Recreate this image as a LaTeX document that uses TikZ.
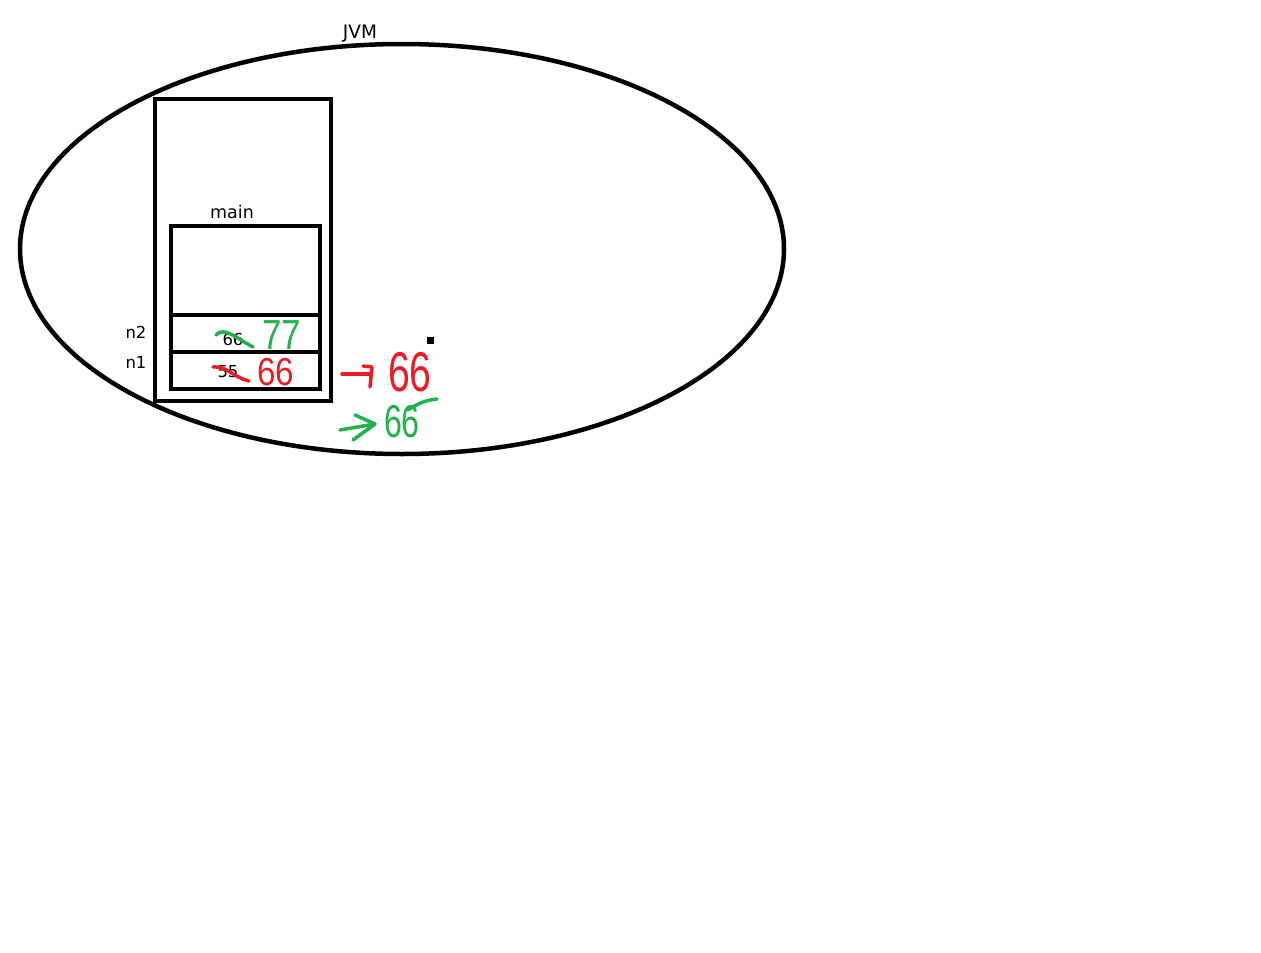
\documentclass[tikz,border=0pt]{standalone}
\usepackage{fontspec}
\setmainfont{DejaVu Sans}
\newfontfamily\scrawlfont{Liberation Sans}
\usetikzlibrary{shapes.geometric,positioning}
\definecolor{paintred}{RGB}{237,28,36}
\definecolor{paintgreen}{RGB}{34,177,76}

\begin{document}
\begin{tikzpicture}[x=1pt,y=-1pt,
  box/.style={draw,line width=4.5pt,inner sep=0pt},
  lbl/.style={inner sep=0pt,font=\fontsize{16.5}{18}\selectfont},
  hand/.style={line width=3.5pt,line cap=round,line join=round},
  scrawl/.style={inner sep=0pt,font=\scrawlfont}]

  \fill[white] (0,0) rectangle (1261,953);
  \useasboundingbox (0,0) rectangle (1261,953);

  % jvm and the stack inside it
  \node[box,ellipse,minimum width=764pt,minimum height=410pt] (jvm) at (402,249) {};
  \node[lbl,font=\fontsize{18.5}{20}\selectfont] (jvmlbl) at (360,34) {JVM};
  \node[box,minimum width=176pt,minimum height=302pt] (stack) at (243,250) {};

  % frame of main with its two slots
  \node[box,minimum width=149pt,minimum height=163pt] (frame) at (245.5,307.5) {};
  \node[lbl,font=\fontsize{17.5}{19}\selectfont] (mainlbl) at (232,212) {main};
  \node[box,minimum width=149pt,minimum height=37pt] (n2slot) at (245.5,333.5) {};
  \node[box,minimum width=149pt,minimum height=37pt] (n1slot) at (245.5,370.5) {};
  \node[lbl] (n2lbl) at (136,332) {n2};
  \node[lbl] (n1lbl) at (136,362) {n1};
  \node[lbl] (oldn2) at (233,339) {66};
  \node[lbl] (oldn1) at (228,372) {55};

  % crossed out values
  \draw[hand,paintgreen] (216,335) .. controls (224,326) and (236,338) .. (253,347);
  \draw[hand,paintred] (213,367) .. controls (228,366) and (234,378) .. (249,381);

  % new values written by hand
  \node[scrawl,text=paintred] (newn1) at (276,372)
    {\scalebox{0.85}[1]{\fontsize{39}{39}\selectfont 66}};
  \node[scrawl,text=paintgreen] (newn2) at (282,335)
    {\scalebox{0.83}[1]{\fontsize{42}{42}\selectfont 77}};
  \node[scrawl,text=paintred] (redval) at (410,372)
    {\scalebox{0.7}[1]{\fontsize{56}{56}\selectfont 66}};
  \node[scrawl,text=paintgreen] (greenval) at (402,422)
    {\scalebox{0.7}[1]{\fontsize{46}{46}\selectfont 66}};
  \fill (427,337) rectangle (434,344);

  % arrows to the copies
  \coordinate (rtail) at (342,374);
  \coordinate (rtip) at (371,374);
  \draw[hand,paintred] (rtail) -- (rtip);
  \draw[hand,paintred] ([shift={(-8,-8)}]rtip) -- ([shift={(1,-7)}]rtip) -- ([shift={(-1,13)}]rtip);

  \coordinate (gtail) at (340,430);
  \coordinate (gtip) at (375,424);
  \draw[hand,paintgreen] (gtail) -- (gtip);
  \draw[hand,paintgreen] ([shift={(-20,-9)}]gtip) -- (gtip) -- ([shift={(-22,16)}]gtip);
  \draw[hand,paintgreen] ([shift={(6,-12)}]greenval.center) .. controls ([shift={(18,-20)}]greenval.center) and ([shift={(26,-22)}]greenval.center) .. ([shift={(35,-23)}]greenval.center);

\end{tikzpicture}
\end{document}
